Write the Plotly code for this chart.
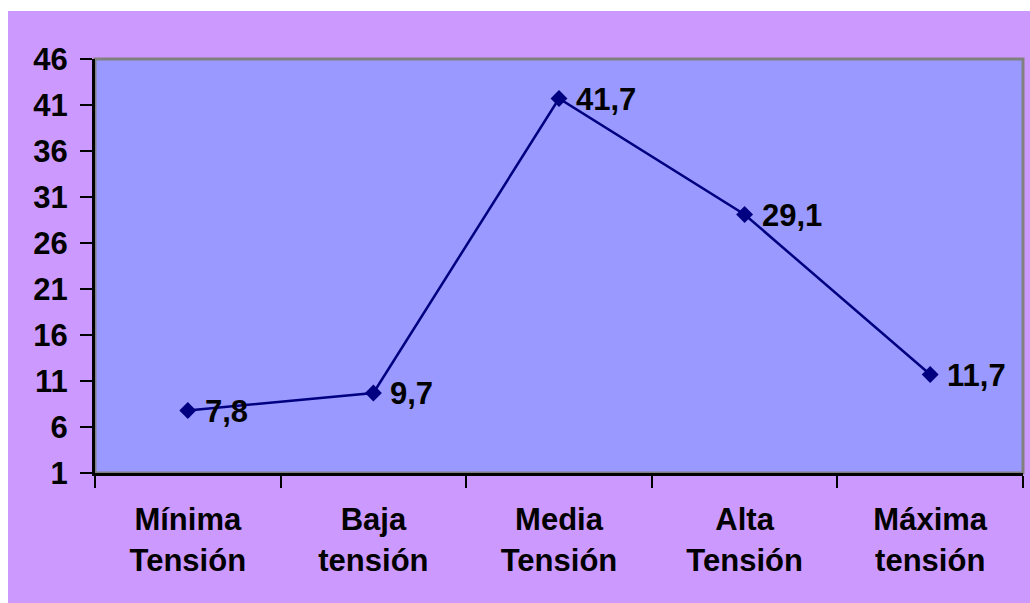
import plotly.graph_objects as go

# Voltage levels and their percentages
categorias = ["Mínima<br>Tensión", "Baja<br>tensión", "Media<br>Tensión", "Alta<br>Tensión", "Máxima<br>tensión"]
valores = [7.8, 9.7, 41.7, 29.1, 11.7]
etiquetas = ["7,8", "9,7", "41,7", "29,1", "11,7"]
ticks_y = [1, 6, 11, 16, 21, 26, 31, 36, 41, 46]

FONT = "Liberation Sans, Arial, sans-serif"
FS = 31
W, H = 1030, 603
L, R, T, B = 95, 7, 59, 130
pw, ph = W - L - R, H - T - B

fig = go.Figure()
fig.add_trace(go.Scatter(
    x=categorias, y=valores,
    mode="lines+markers",
    line=dict(color="#000080", width=2.5),
    marker=dict(symbol="diamond", size=13, color="#000080"),
    hoverinfo="skip",
))

# value labels to the right of each point
for cat, val, lab in zip(categorias, valores, etiquetas):
    fig.add_annotation(
        x=cat, y=val, text=lab, showarrow=False,
        xanchor="left", yanchor="middle", xshift=15, yshift=-1,
        font=dict(family=FONT, size=FS, color="black", weight="bold"),
    )

def px_x(p):
    return (p - L) / pw

def px_y(p):
    return (H - B - p) / ph

shapes = [
    # white strips at the left and top edges of the canvas
    dict(type="rect", xref="paper", yref="paper", x0=px_x(0), x1=px_x(8), y0=px_y(H), y1=px_y(0),
         fillcolor="white", line=dict(width=0), layer="below"),
    dict(type="rect", xref="paper", yref="paper", x0=px_x(0), x1=px_x(W), y0=px_y(11), y1=px_y(0),
         fillcolor="white", line=dict(width=0), layer="below"),
    # grey frame around the plot area
    dict(type="rect", xref="paper", yref="paper", x0=0, x1=1, y0=0, y1=1,
         fillcolor="rgba(0,0,0,0)", line=dict(color="#808080", width=3), layer="below"),
]

fig.update_layout(
    width=W, height=H,
    margin=dict(l=L, r=R, t=T, b=B),
    paper_bgcolor="#CC99FF",
    plot_bgcolor="#9999FF",
    showlegend=False,
    shapes=shapes,
    font=dict(family=FONT, size=FS, color="black", weight="bold"),
)
fig.update_xaxes(
    type="category", range=[-0.5, 4.5], tickson="boundaries",
    showgrid=False, zeroline=False,
    showline=True, linecolor="black", linewidth=3,
    ticks="outside", ticklen=12, tickwidth=2, tickcolor="black",
    ticklabelstandoff=17,
    tickfont=dict(family=FONT, size=FS, color="black", weight="bold"),
)
fig.update_yaxes(
    range=[1, 46], tickvals=ticks_y,
    showgrid=False, zeroline=False,
    showline=True, linecolor="black", linewidth=3,
    ticks="outside", ticklen=12, tickwidth=2, tickcolor="black",
    ticklabelstandoff=6,
    tickfont=dict(family=FONT, size=FS, color="black", weight="bold"),
)

fig.write_html("out.html")
